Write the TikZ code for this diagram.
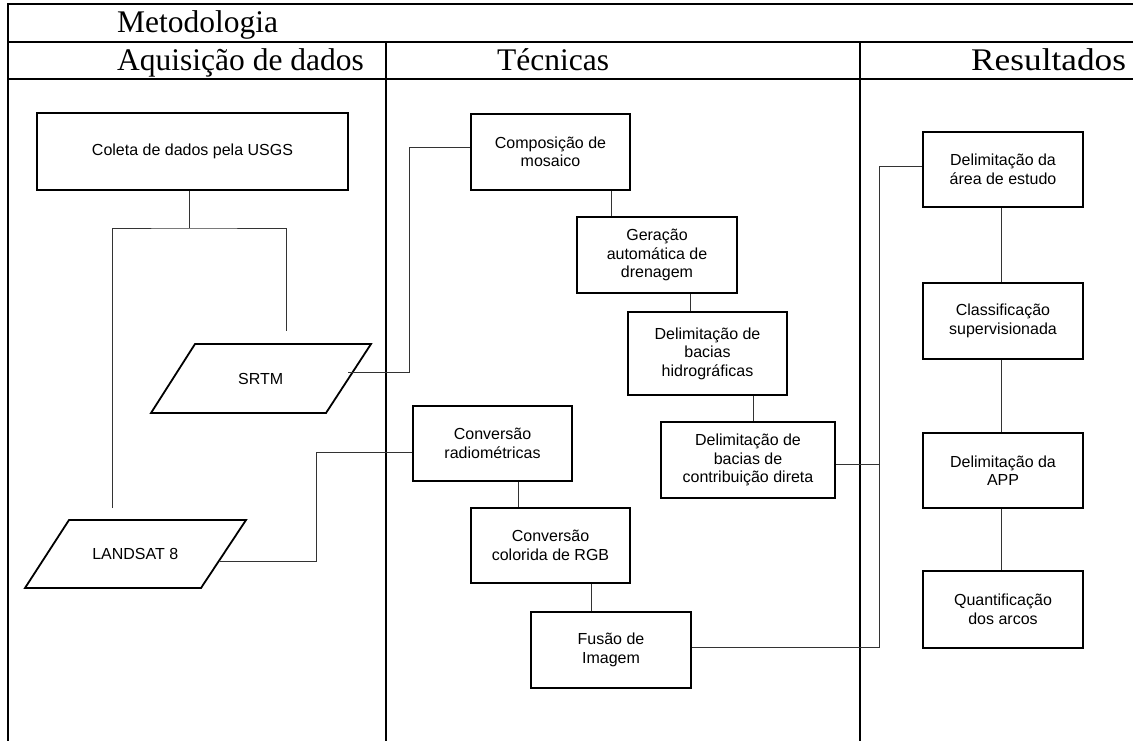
\documentclass[tikz,border=0pt]{standalone}
\usepackage{fontspec}
\setmainfont{Liberation Serif}
\newfontfamily\arialf{Liberation Sans}
\begin{document}
\begin{tikzpicture}[x=1pt,y=-1pt,
  tbl/.style={line width=2pt},
  box/.style={draw, line width=1.8pt, font=\arialf\fontsize{16}{18.5}\selectfont, align=center, inner sep=0pt},
  ptext/.style={font=\arialf\fontsize{16}{18.5}\selectfont, inner sep=0pt},
  pgram/.style={draw, line width=1.8pt, line join=miter},
  conn/.style={line width=1pt, draw=black!80},
  hdr/.style={font=\fontsize{31.5}{36}\selectfont, anchor=base west, inner sep=0pt}]

\useasboundingbox (0,0) rectangle (1133,740);

% table
\draw[tbl] (1133,4) -- (8,4) -- (8,741);
\draw[tbl] (8,42) -- (1133,42);
\draw[tbl] (8,79) -- (1133,79);
\draw[tbl] (386,42) -- (386,741);
\draw[tbl] (860,42) -- (860,741);

% headers
\node[hdr] (hMet) at (117,32) {Metodologia};
\node[hdr] (hAq) at (117,70) {Aquisição de dados};
\node[hdr] (hTec) at (497,70) {Técnicas};
\node[hdr] (hRes) at (971,70) {\scalebox{1.12}[1]{Resultados}};

% left column
\node[box, minimum width=311, minimum height=77] (coleta) at (192.5,151.5) {Coleta de dados pela USGS};
\node[ptext] (srtm) at (260.75,378.5) {SRTM};
\draw[pgram] (195,344) -- (371,344) -- (326,413) -- (151,413) -- cycle;
\node[ptext] (land) at (135.25,554) {LANDSAT 8};
\draw[pgram] (69,520) -- (246,520) -- (201,588) -- (25,588) -- cycle;

% middle column
\node[box, minimum width=159, minimum height=76] (comp) at (550.5,152) {Composição de\\mosaico};
\node[box, minimum width=160, minimum height=76] (gera) at (657,255) {Geração\\automática de\\drenagem};
\node[box, minimum width=159, minimum height=83] (hidro) at (707.5,353.5) {Delimitação de\\bacias\\hidrográficas};
\node[box, minimum width=174, minimum height=76] (contrib) at (748,460) {Delimitação de\\bacias de\\contribuição direta};
\node[box, minimum width=159, minimum height=75] (conv) at (492.5,443.5) {Conversão\\radiométricas};
\node[box, minimum width=159, minimum height=75] (color) at (550.5,545.5) {Conversão\\colorida de RGB};
\node[box, minimum width=160, minimum height=76] (fusao) at (611,650) {Fusão de\\Imagem};

% right column
\node[box, minimum width=160, minimum height=75] (area) at (1003,169.5) {Delimitação da\\área de estudo};
\node[box, minimum width=160, minimum height=76] (class) at (1003,321) {Classificação\\supervisionada};
\node[box, minimum width=160, minimum height=75] (app) at (1003,470.5) {Delimitação da\\APP};
\node[box, minimum width=160, minimum height=77] (quant) at (1003,609.5) {Quantificação\\dos arcos};

% helper coordinates
\coordinate (split) at (189,228);
\coordinate (landIn) at (112,508);
\coordinate (srtmIn) at (286,331);
\coordinate (srtmOut) at (348,372);
\coordinate (b1) at (409,147);
\coordinate (landOut) at (220,561);
\coordinate (b2) at (316,452);
\coordinate (v1) at (611,0);
\coordinate (v2) at (690,0);
\coordinate (v3) at (753,0);
\coordinate (v4) at (518,0);
\coordinate (v5) at (591,0);
\coordinate (v6) at (1001,0);
\coordinate (j0) at (879,166);
\coordinate (j1) at (879,464);
\coordinate (j2) at (879,647);

% connectors
\draw[conn] (coleta.south -| split) -- (split);
\draw[conn] (landIn) |- (split) -| (srtmIn);
\draw[conn] (srtmOut) -| (b1) -- (comp.west |- b1);
\draw[conn] (landOut) -| (b2) -- (conv.west |- b2);
\draw[conn] (comp.south -| v1) -- (gera.north -| v1);
\draw[conn] (gera.south -| v2) -- (hidro.north -| v2);
\draw[conn] (hidro.south -| v3) -- (contrib.north -| v3);
\draw[conn] (conv.south -| v4) -- (color.north -| v4);
\draw[conn] (color.south -| v5) -- (fusao.north -| v5);
\draw[conn] (area.south -| v6) -- (class.north -| v6);
\draw[conn] (class.south -| v6) -- (app.north -| v6);
\draw[conn] (app.south -| v6) -- (quant.north -| v6);
\draw[conn] (area.west |- j0) -- (j0) -- (j2) -- (fusao.east |- j2);
\draw[conn] (contrib.east |- j1) -- (j1);
\end{tikzpicture}
\end{document}
